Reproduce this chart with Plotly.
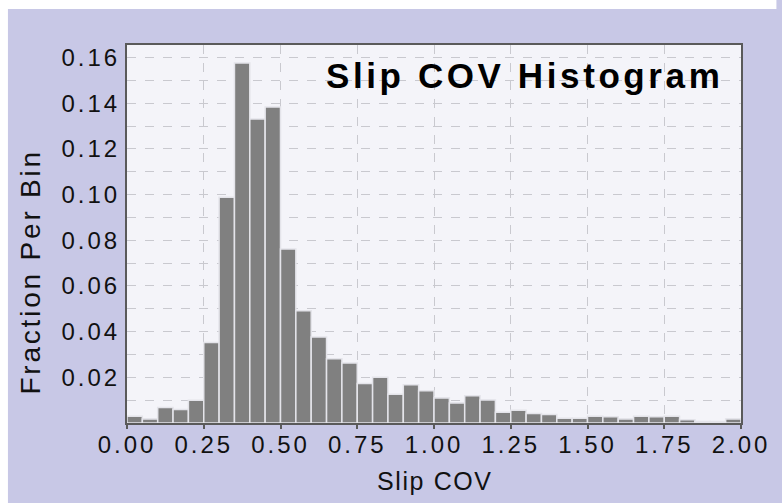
import plotly.graph_objects as go

# ---- data ----
bin_width = 0.05
bin_lefts = [round(i * bin_width, 2) for i in range(40)]
fractions = [
    0.0030, 0.0018, 0.0068, 0.0059, 0.0100,
    0.0353, 0.0988, 0.1576, 0.1331, 0.1383,
    0.0762, 0.0492, 0.0377, 0.0281, 0.0263,
    0.0173, 0.0200, 0.0126, 0.0168, 0.0141,
    0.0110, 0.0088, 0.0119, 0.0101, 0.0047,
    0.0056, 0.0042, 0.0037, 0.0021, 0.0021,
    0.0030, 0.0027, 0.0018, 0.0030, 0.0027,
    0.0030, 0.0014, 0.0007, 0.0007, 0.0018,
]
x_ticks = [0.0, 0.25, 0.5, 0.75, 1.0, 1.25, 1.5, 1.75, 2.0]
x_labels = ["0.00", "0.25", "0.50", "0.75", "1.00", "1.25", "1.50", "1.75", "2.00"]
y_ticks = [0.02, 0.04, 0.06, 0.08, 0.10, 0.12, 0.14, 0.16]
y_labels = ["0.02", "0.04", "0.06", "0.08", "0.10", "0.12", "0.14", "0.16"]
title_text = "Slip COV Histogram"
x_title = "Slip COV"
y_title = "Fraction Per Bin"

FONT = "Liberation Sans, Arial, Helvetica, sans-serif"
LAV = "#c8c8e6"
PLOTBG = "#f4f4f9"
GRID = "#c9c9cf"
AXIS = "#5a5a5a"


def spaced(t, ls):
    return '<span style="letter-spacing:%spx">%s</span>' % (ls, t)


fig = go.Figure()
fig.add_trace(go.Bar(
    x=bin_lefts, y=fractions, width=bin_width, offset=0,
    marker=dict(color="#808080", line=dict(color="#e4e4ea", width=1.5)),
    showlegend=False, hoverinfo="skip",
))

W, H = 782, 503
L, R, T, B = 127, 31, 45, 80
pw, ph = W - L - R, H - T - B


def px_x(x):
    return (x - L) / pw


def px_y(y):
    return (H - B - y) / ph


fig.update_layout(
    width=W, height=H,
    margin=dict(l=L, r=R, t=T, b=B, pad=0),
    paper_bgcolor=LAV, plot_bgcolor=PLOTBG,
    font=dict(family=FONT, color="#111111"),
    xaxis=dict(
        range=[0, 2.0], tickmode="array", tickvals=x_ticks,
        ticktext=[spaced(t, 3) for t in x_labels],
        tickfont=dict(size=24, family=FONT, color="#111"),
        ticks="outside", ticklen=4, tickwidth=1.5, tickcolor=AXIS,
        showline=True, linecolor=AXIS, linewidth=2, mirror=True,
        showgrid=True, gridcolor=GRID, griddash="dash", gridwidth=1,
        zeroline=False, ticklabelstandoff=-5,
    ),
    yaxis=dict(
        range=[0, 0.1655], tickmode="array", tickvals=y_ticks,
        ticktext=[spaced(t, 3) for t in y_labels],
        tickfont=dict(size=24, family=FONT, color="#111"),
        ticks="", showline=True, linecolor=AXIS, linewidth=2, mirror=True,
        showgrid=True, gridcolor=GRID, griddash="dash", gridwidth=1,
        minor=dict(dtick=0.01, tick0=0, showgrid=True, gridcolor=GRID,
                   griddash="dash", gridwidth=1),
        zeroline=False, ticklabelstandoff=0,
    ),
    shapes=[
        dict(type="rect", xref="paper", yref="paper",
             x0=px_x(-5), x1=px_x(W + 5), y0=px_y(9), y1=px_y(-5),
             fillcolor="white", line=dict(width=0), layer="above"),
        dict(type="rect", xref="paper", yref="paper",
             x0=px_x(-5), x1=px_x(6), y0=px_y(H + 5), y1=px_y(-5),
             fillcolor="white", line=dict(width=0), layer="above"),
    ],
    annotations=[
        dict(text="<b>" + spaced(title_text, 3.6) + "</b>", xref="paper", yref="paper",
             x=px_x(531), y=px_y(76), xanchor="center", yanchor="middle",
             showarrow=False, font=dict(size=35, family=FONT, color="#000")),
        dict(text=spaced(x_title, 1.6), xref="paper", yref="paper",
             x=px_x(440), y=px_y(481), xanchor="center", yanchor="middle",
             showarrow=False, font=dict(size=25, family=FONT, color="#111")),
        dict(text=spaced(y_title, 2.8), xref="paper", yref="paper",
             x=px_x(28), y=px_y(272), xanchor="center", yanchor="middle",
             textangle=-90, showarrow=False,
             font=dict(size=28, family=FONT, color="#111")),
    ],
)

fig.write_html(
    "out.html",
    config={"displayModeBar": False},
    post_script="document.body.style.margin='0px';document.body.style.overflow='hidden';",
)
